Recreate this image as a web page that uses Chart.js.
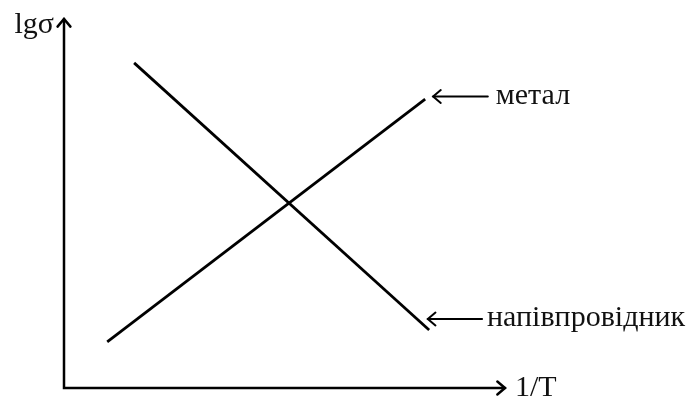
<!DOCTYPE html>
<html>
<head>
<meta charset="utf-8">
<script src="https://cdn.jsdelivr.net/npm/chart.js@4/dist/chart.umd.min.js"></script>
<style>
  html, body { margin: 0; padding: 0; background: #fff; }
  #wrap { width: 692px; height: 398px; }
</style>
</head>
<body>
<div id="wrap"><canvas id="chart" width="692" height="398"></canvas></div>
<script>
// lg(sigma) vs 1/T for a metal and a semiconductor (schematic, arbitrary units)
const metalX = [0.98, 8.19];
const metalY = [1.25, 7.83];
const semiX = [1.59, 8.28];
const semiY = [8.81, 1.57];

// pointer labels: text, arrow start x, arrow tip x, y
const labelNames = ['метал', 'напівпровідник'];
const labelFromX = [9.61, 9.48];
const labelToX = [8.37, 8.25];
const labelY = [7.90, 1.87];
const labelGap = [8, 5];

const axisTitleX = '1/T';
const axisTitleY = 'lgσ';

const FONT = '"Liberation Serif", "Times New Roman", serif';

function toPoints(xs, ys) {
    return xs.map((x, i) => ({ x: x, y: ys[i] }));
}

function arrowHead(ctx, x, y, dir, size) {
    // dir: angle the arrow points to
    ctx.beginPath();
    ctx.moveTo(x - size * Math.cos(dir - 0.7), y - size * Math.sin(dir - 0.7));
    ctx.lineTo(x, y);
    ctx.lineTo(x - size * Math.cos(dir + 0.7), y - size * Math.sin(dir + 0.7));
    ctx.stroke();
}

// axes with arrows, axis titles and pointer labels
const decorPlugin = {
    id: 'decor',
    afterDraw(chart) {
        const ctx = chart.ctx;
        const area = chart.chartArea;
        const xs = chart.scales.x;
        const ys = chart.scales.y;
        ctx.save();
        ctx.strokeStyle = '#000';
        ctx.fillStyle = '#111';
        ctx.lineWidth = 2.5;
        ctx.lineCap = 'round';
        ctx.lineJoin = 'miter';

        // axes
        ctx.beginPath();
        ctx.moveTo(area.left, area.top);
        ctx.lineTo(area.left, area.bottom);
        ctx.lineTo(area.right, area.bottom);
        ctx.stroke();
        arrowHead(ctx, area.left, area.top, -Math.PI / 2, 10);
        arrowHead(ctx, area.right, area.bottom, 0, 10);

        ctx.font = '30px ' + FONT;
        ctx.textBaseline = 'alphabetic';
        ctx.textAlign = 'right';
        ctx.fillText(axisTitleY, area.left - 10, area.top + 14);
        ctx.textAlign = 'left';
        ctx.fillText(axisTitleX, area.right + 10, area.bottom + 8);

        // pointer labels
        ctx.lineWidth = 2;
        labelNames.forEach((name, i) => {
            const y = ys.getPixelForValue(labelY[i]);
            const x0 = xs.getPixelForValue(labelFromX[i]);
            const x1 = xs.getPixelForValue(labelToX[i]);
            ctx.beginPath();
            ctx.moveTo(x0, y);
            ctx.lineTo(x1, y);
            ctx.stroke();
            arrowHead(ctx, x1, y, Math.PI, 10);
            ctx.fillText(name, x0 + labelGap[i], y + 7.5);
        });
        ctx.restore();
    }
};

new Chart(document.getElementById('chart'), {
    type: 'scatter',
    data: {
        datasets: [
            {
                label: 'метал',
                data: toPoints(metalX, metalY),
                showLine: true,
                borderColor: '#000',
                borderWidth: 2.8,
                pointRadius: 0
            },
            {
                label: 'напівпровідник',
                data: toPoints(semiX, semiY),
                showLine: true,
                borderColor: '#000',
                borderWidth: 2.8,
                pointRadius: 0
            }
        ]
    },
    options: {
        responsive: false,
        animation: false,
        layout: { padding: { left: 64, right: 187, top: 19, bottom: 10 } },
        plugins: {
            legend: { display: false },
            tooltip: { enabled: false }
        },
        scales: {
            x: { type: 'linear', min: 0, max: 10, display: false },
            y: { type: 'linear', min: 0, max: 10, display: false }
        }
    },
    plugins: [decorPlugin]
});
</script>
</body>
</html>
